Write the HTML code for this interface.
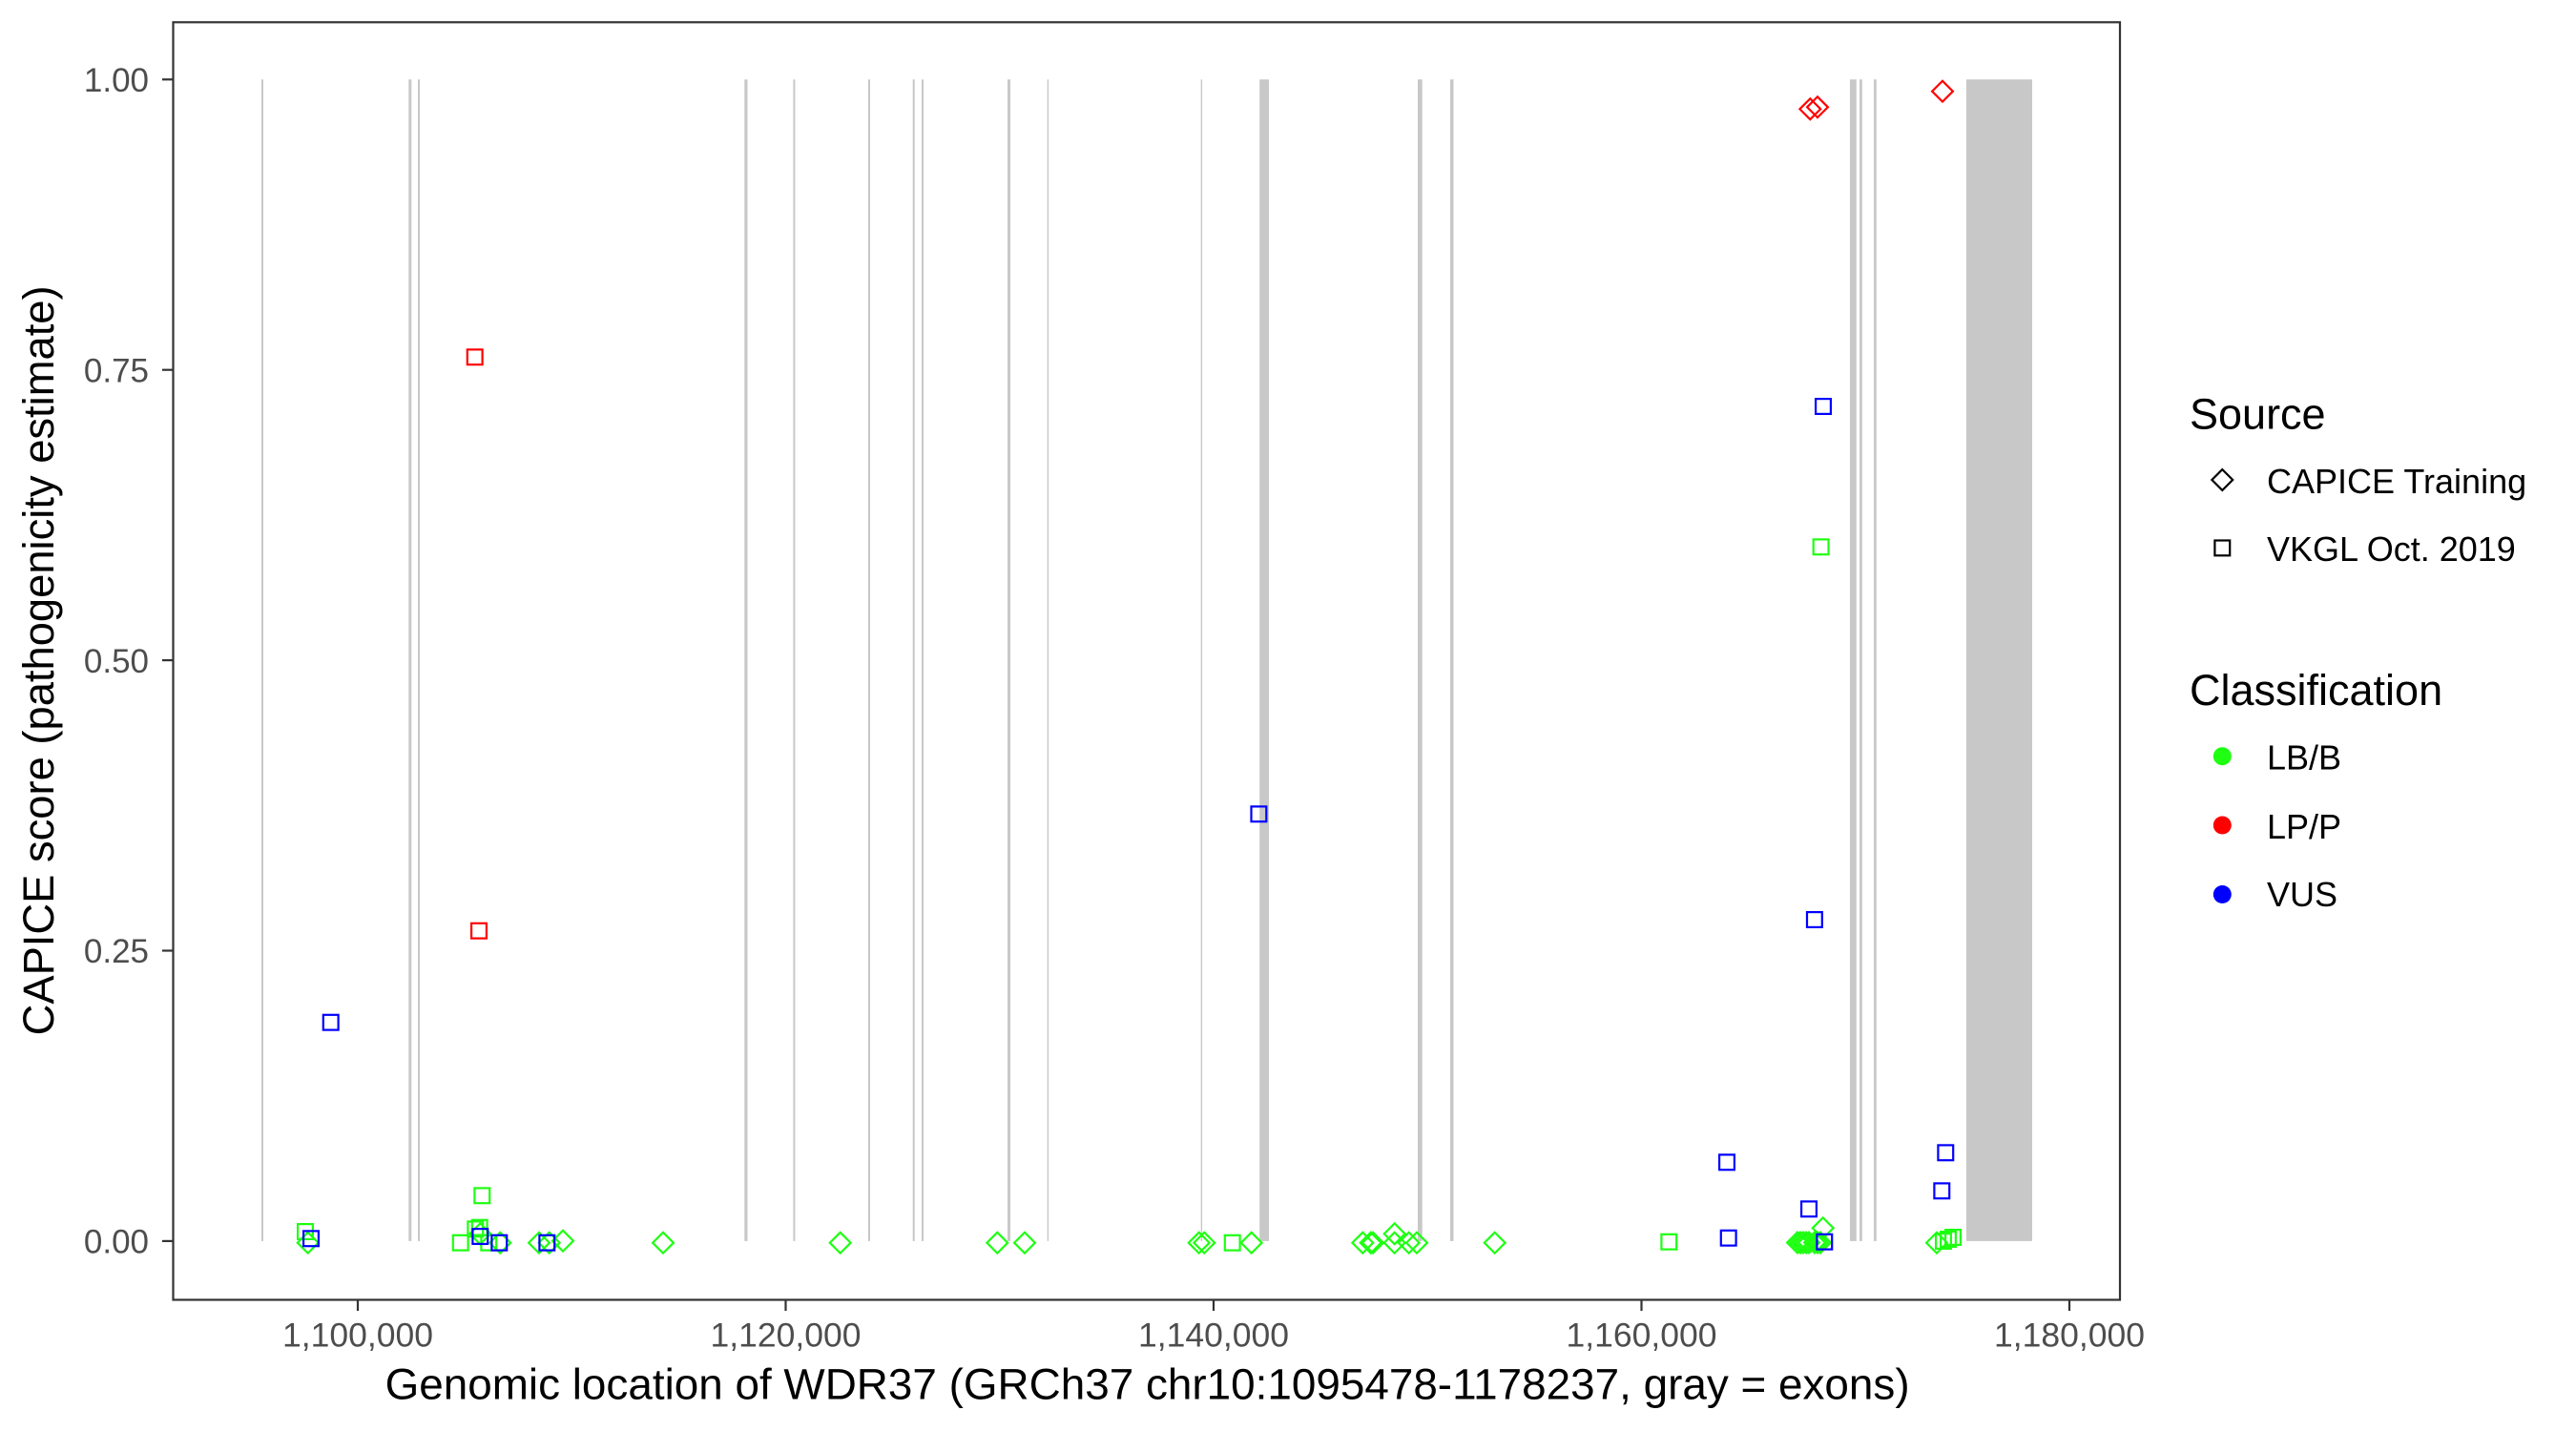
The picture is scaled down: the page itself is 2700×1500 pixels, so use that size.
<!DOCTYPE html>
<html>
<head>
<meta charset="utf-8">
<style>
html,body{margin:0;padding:0;background:#fff;}
svg{display:block;}
text{font-family:"Liberation Sans",Arial,sans-serif;}
</style>
</head>
<body>
<svg width="2700" height="1500" viewBox="0 0 2700 1500" xmlns="http://www.w3.org/2000/svg">
<defs>
  <path id="dm" d="M0,-10.9 L10.9,0 L0,10.9 L-10.9,0 Z" fill="none" stroke-width="2.2"/>
  <rect id="sq" x="-7.9" y="-7.9" width="15.8" height="15.8" fill="none" stroke-width="2.2"/>
</defs>
<rect x="0" y="0" width="2700" height="1500" fill="#ffffff"/>

<!-- exons -->
<g fill="#c8c8c8">
  <rect x="274" y="83.3" width="2" height="1217.6"/>
  <rect x="428.3" y="83.3" width="3" height="1217.6"/>
  <rect x="438" y="83.3" width="2" height="1217.6"/>
  <rect x="780.3" y="83.3" width="3.2" height="1217.6"/>
  <rect x="831.4" y="83.3" width="2" height="1217.6"/>
  <rect x="910" y="83.3" width="2" height="1217.6"/>
  <rect x="956.7" y="83.3" width="2" height="1217.6"/>
  <rect x="966" y="83.3" width="2" height="1217.6"/>
  <rect x="1056" y="83.3" width="3" height="1217.6"/>
  <rect x="1097.7" y="83.3" width="1.4" height="1217.6"/>
  <rect x="1258.7" y="83.3" width="1.4" height="1217.6"/>
  <rect x="1320.2" y="83.3" width="9.8" height="1217.6"/>
  <rect x="1486" y="83.3" width="4.7" height="1217.6"/>
  <rect x="1520" y="83.3" width="3.5" height="1217.6"/>
  <rect x="1939" y="83.3" width="6.8" height="1217.6"/>
  <rect x="1949" y="83.3" width="2.8" height="1217.6"/>
  <rect x="1964" y="83.3" width="2.8" height="1217.6"/>
  <rect x="2061" y="83.3" width="69" height="1217.6"/>
</g>

<!-- green points -->
<g stroke="#1eff12">
  <use href="#dm" x="322.7" y="1302.7"/>
  <use href="#sq" x="320" y="1291"/>
  <use href="#sq" x="505.3" y="1253.3"/>
  <use href="#sq" x="498.3" y="1288.3"/>
  <use href="#sq" x="502.7" y="1286.7"/>
  <use href="#dm" x="503.3" y="1293.3"/>
  <use href="#sq" x="482.7" y="1302.7"/>
  <use href="#sq" x="512.3" y="1302.7"/>
  <use href="#dm" x="524.3" y="1302.7"/>
  <use href="#dm" x="565" y="1302.7"/>
  <use href="#dm" x="575.7" y="1302.7"/>
  <use href="#dm" x="590" y="1300.7"/>
  <use href="#dm" x="695" y="1302.7"/>
  <use href="#dm" x="880.7" y="1302.7"/>
  <use href="#dm" x="1045.3" y="1302.7"/>
  <use href="#dm" x="1074" y="1302.7"/>
  <use href="#dm" x="1256.7" y="1302.7"/>
  <use href="#dm" x="1262.3" y="1302.7"/>
  <use href="#sq" x="1291.7" y="1302.7"/>
  <use href="#dm" x="1311.7" y="1302.7"/>
  <use href="#dm" x="1428.3" y="1302.7"/>
  <use href="#dm" x="1436.7" y="1302.7"/>
  <use href="#dm" x="1439" y="1302.7"/>
  <use href="#dm" x="1461.7" y="1293.3"/>
  <use href="#dm" x="1461.7" y="1302.7"/>
  <use href="#dm" x="1476.7" y="1302.7"/>
  <use href="#dm" x="1485" y="1302.7"/>
  <use href="#dm" x="1566.7" y="1302.7"/>
  <use href="#sq" x="1749.3" y="1301.7"/>
  <use href="#sq" x="1908.6" y="573.3"/>
  <use href="#dm" x="1884" y="1302.5"/>
  <use href="#dm" x="1887" y="1302.5"/>
  <use href="#dm" x="1890" y="1302.5"/>
  <use href="#dm" x="1893" y="1302.5"/>
  <use href="#dm" x="1896" y="1302.5"/>
  <use href="#dm" x="1902" y="1302.5"/>
  <use href="#dm" x="1905" y="1302.5"/>
  <use href="#dm" x="1908" y="1302.5"/>
  <use href="#dm" x="1910.7" y="1287.3"/>
  <use href="#dm" x="2030" y="1302.7"/>
  <use href="#sq" x="2037" y="1301"/>
  <use href="#sq" x="2042" y="1299"/>
  <use href="#sq" x="2047" y="1297"/>
</g>

<!-- red points -->
<g stroke="#ff0000">
  <use href="#sq" x="497.7" y="374.3"/>
  <use href="#sq" x="502" y="975.7"/>
  <use href="#dm" x="1897.3" y="114.3"/>
  <use href="#dm" x="1905" y="112.3"/>
  <use href="#dm" x="2036" y="95.7"/>
</g>

<!-- blue points -->
<g stroke="#0000ff">
  <use href="#sq" x="346.7" y="1071.7"/>
  <use href="#sq" x="326" y="1298.3"/>
  <use href="#sq" x="503.3" y="1296"/>
  <use href="#sq" x="523.3" y="1302.7"/>
  <use href="#sq" x="573.3" y="1302.7"/>
  <use href="#sq" x="1319.4" y="853.3"/>
  <use href="#sq" x="1810" y="1218.3"/>
  <use href="#sq" x="1811.7" y="1297.7"/>
  <use href="#sq" x="1896" y="1267.3"/>
  <use href="#sq" x="1901.9" y="964"/>
  <use href="#sq" x="1911" y="426"/>
  <use href="#sq" x="1912.3" y="1301.7"/>
  <use href="#sq" x="2035.3" y="1248.3"/>
  <use href="#sq" x="2039.3" y="1208.3"/>
</g>

<!-- panel border -->
<rect x="181.5" y="23.3" width="2040.5" height="1339.2" fill="none" stroke="#333333" stroke-width="2.2"/>

<!-- y axis ticks -->
<g stroke="#333333" stroke-width="2.2">
  <line x1="170" y1="83.3" x2="181.5" y2="83.3"/>
  <line x1="170" y1="387.7" x2="181.5" y2="387.7"/>
  <line x1="170" y1="692.1" x2="181.5" y2="692.1"/>
  <line x1="170" y1="996.5" x2="181.5" y2="996.5"/>
  <line x1="170" y1="1300.9" x2="181.5" y2="1300.9"/>
</g>
<g fill="#4d4d4d" font-size="35" text-anchor="end">
  <text x="156" y="96">1.00</text>
  <text x="156" y="400.4">0.75</text>
  <text x="156" y="704.8">0.50</text>
  <text x="156" y="1009.2">0.25</text>
  <text x="156" y="1313.6">0.00</text>
</g>

<!-- x axis ticks -->
<g stroke="#333333" stroke-width="2.2">
  <line x1="375" y1="1362.5" x2="375" y2="1374"/>
  <line x1="823.5" y1="1362.5" x2="823.5" y2="1374"/>
  <line x1="1272" y1="1362.5" x2="1272" y2="1374"/>
  <line x1="1720.5" y1="1362.5" x2="1720.5" y2="1374"/>
  <line x1="2169" y1="1362.5" x2="2169" y2="1374"/>
</g>
<g fill="#4d4d4d" font-size="35.5" text-anchor="middle">
  <text x="375" y="1411.7">1,100,000</text>
  <text x="823.5" y="1411.7">1,120,000</text>
  <text x="1272" y="1411.7">1,140,000</text>
  <text x="1720.5" y="1411.7">1,160,000</text>
  <text x="2169" y="1411.7">1,180,000</text>
</g>

<!-- axis titles -->
<text x="1202.6" y="1466.7" font-size="45" text-anchor="middle" fill="#000" textLength="1598" lengthAdjust="spacingAndGlyphs">Genomic location of WDR37 (GRCh37 chr10:1095478-1178237, gray = exons)</text>
<text transform="translate(56,692.4) rotate(-90)" x="0" y="0" font-size="45" text-anchor="middle" fill="#000" textLength="786" lengthAdjust="spacingAndGlyphs">CAPICE score (pathogenicity estimate)</text>

<!-- legend -->
<text x="2295" y="449.4" font-size="45" fill="#000">Source</text>
<use href="#dm" x="2329.3" y="503" stroke="#000"/>
<text x="2376" y="517" font-size="36" fill="#000">CAPICE Training</text>
<use href="#sq" x="2329.3" y="574.4" stroke="#000"/>
<text x="2376" y="588" font-size="36" fill="#000">VKGL Oct. 2019</text>

<text x="2295" y="739" font-size="45" fill="#000">Classification</text>
<circle cx="2329.3" cy="792.7" r="9.5" fill="#1eff12"/>
<text x="2376" y="806.6" font-size="36" fill="#000">LB/B</text>
<circle cx="2329.3" cy="865" r="9.5" fill="#ff0000"/>
<text x="2376" y="878.8" font-size="36" fill="#000">LP/P</text>
<circle cx="2329.3" cy="937.5" r="9.5" fill="#0000ff"/>
<text x="2376" y="950" font-size="36" fill="#000">VUS</text>
</svg>
</body>
</html>
